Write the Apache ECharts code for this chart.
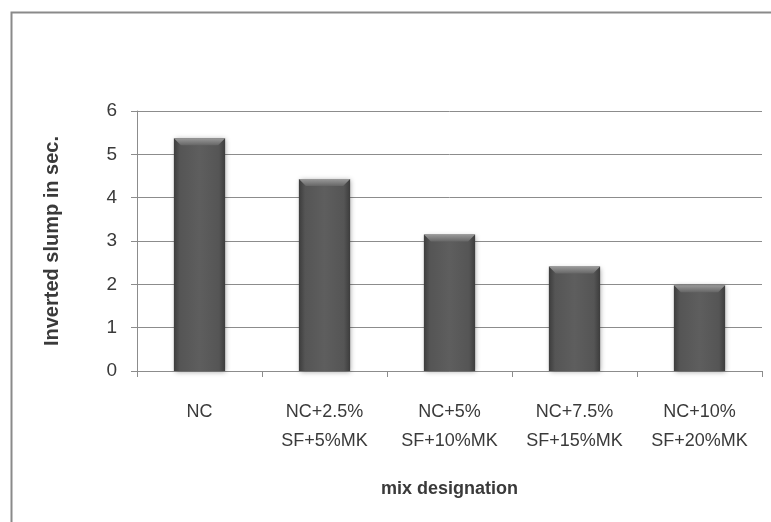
<!DOCTYPE html>
<html>
<head>
<meta charset="utf-8">
<script src="https://cdn.jsdelivr.net/npm/echarts@6/dist/echarts.min.js"></script>
<style>
  html, body { margin: 0; padding: 0; background: #fff; }
  #chart { width: 771px; height: 522px; }
</style>
</head>
<body>
<div id="chart"></div>
<script>
// Mix designations and their inverted slump times (seconds)
const categories = [
  'NC',
  'NC+2.5%\nSF+5%MK',
  'NC+5%\nSF+10%MK',
  'NC+7.5%\nSF+15%MK',
  'NC+10%\nSF+20%MK'
];
const slumpSeconds = [5.37, 4.43, 3.15, 2.41, 1.98];
const yTicks = { min: 0, max: 6, interval: 1 };

const FONT = '"Liberation Sans", Arial, sans-serif';
const TEXT = '#3a3a3a';

const chart = echarts.init(document.getElementById('chart'), null, { renderer: 'canvas' });

// Bar drawn as a shaded column with a bevelled top edge
function renderColumn(params, api) {
  const idx = api.value(0);
  const top = api.coord([idx, api.value(1)]);
  const base = api.coord([idx, 0]);
  const w = api.size([1, 0])[0] * 0.41;
  const x0 = top[0] - w / 2;
  const h = base[1] - top[1];
  const b = Math.min(7, h / 2);
  return {
    type: 'group',
    children: [
      {
        type: 'rect',
        shape: { x: x0, y: top[1], width: w, height: h },
        style: {
          fill: new echarts.graphic.LinearGradient(0, 0, 1, 0, [
            { offset: 0, color: '#3c3c3c' },
            { offset: 0.12, color: '#555555' },
            { offset: 0.5, color: '#5e5e5e' },
            { offset: 0.88, color: '#555555' },
            { offset: 1, color: '#3c3c3c' }
          ]),
          shadowBlur: 5,
          shadowColor: 'rgba(0,0,0,0.35)',
          shadowOffsetX: 1,
          shadowOffsetY: 1
        }
      },
      {
        type: 'polygon',
        shape: {
          points: [
            [x0, top[1]], [x0 + w, top[1]],
            [x0 + w - b, top[1] + b], [x0 + b, top[1] + b]
          ]
        },
        style: {
          fill: new echarts.graphic.LinearGradient(0, 0, 0, 1, [
            { offset: 0, color: '#9a9a9a' },
            { offset: 1, color: '#666666' }
          ])
        }
      }
    ]
  };
}

chart.setOption({
  animation: false,
  backgroundColor: '#ffffff',
  graphic: [
    {
      type: 'rect',
      left: 9, top: 10,
      shape: { width: 800, height: 600 },
      style: { fill: 'none', stroke: '#8a8a8a', lineWidth: 2 },
      silent: true
    }
  ],
  grid: { left: 137, right: 9, top: 111, bottom: 151 },
  xAxis: {
    type: 'category',
    data: categories,
    name: 'mix designation',
    nameLocation: 'middle',
    nameGap: 109,
    nameTextStyle: { fontFamily: FONT, fontSize: 18, fontWeight: 'bold', color: TEXT },
    axisLine: { lineStyle: { color: '#8c8c8c', width: 1 } },
    axisTick: { show: true, length: 6, lineStyle: { color: '#8c8c8c' } },
    axisLabel: {
      fontFamily: FONT, fontSize: 18, color: TEXT,
      margin: 27, lineHeight: 29, interval: 0
    },
    splitLine: { show: false }
  },
  yAxis: {
    type: 'value',
    min: yTicks.min,
    max: yTicks.max,
    interval: yTicks.interval,
    name: 'Inverted slump in sec.',
    nameLocation: 'middle',
    nameGap: 75,
    nameRotate: 90,
    nameTextStyle: { fontFamily: FONT, fontSize: 20, fontWeight: 'bold', color: TEXT },
    axisLine: { show: true, lineStyle: { color: '#8c8c8c', width: 1 } },
    axisTick: { show: true, length: 6, lineStyle: { color: '#8c8c8c' } },
    axisLabel: { fontFamily: FONT, fontSize: 19, color: TEXT, margin: 20 },
    splitLine: { show: true, lineStyle: { color: '#8c8c8c', width: 1 } }
  },
  series: [
    {
      type: 'custom',
      renderItem: renderColumn,
      encode: { x: 0, y: 1 },
      data: slumpSeconds.map((v, i) => [i, v]),
      z: 3
    }
  ]
});
</script>
</body>
</html>
